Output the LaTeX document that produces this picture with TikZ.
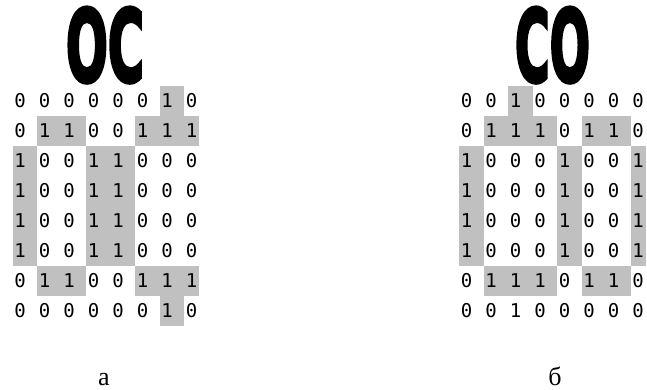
\documentclass[tikz,border=0pt]{standalone}
\usepackage{fontspec}
\usepackage{graphicx}
\setmainfont{Liberation Serif}
\newfontfamily\digitfont{DejaVu Sans Mono}
\newfontfamily\headfont{DejaVu Sans}[FakeBold=4]
\definecolor{cellgray}{HTML}{C0C0C0}
% grey block: grid left edge, first col, last col, first row, last row
\newcommand{\cellblock}[5]{%
  \ifnum#3=8 \def\blockright{#1+7*24.5+15}\else\def\blockright{#1+#3*24.5}\fi
  \fill[cellgray] ({#1+(#2-1)*24.5},{86+(#4-1)*30}) rectangle ({\blockright},{86+#5*30});}

\begin{document}
\begin{tikzpicture}[x=1pt,y=-1pt,digit/.style={font=\digitfont\fontsize{19}{19}\selectfont,inner sep=0pt},heading/.style={font=\headfont\bfseries,inner sep=0pt,anchor=south},sublabel/.style={font=\fontsize{26}{26}\selectfont,inner sep=0pt,anchor=base}]
  \useasboundingbox (0,0) rectangle (647,390);
  % left grid
  \cellblock{12.5}{7}{7}{1}{1}
  \cellblock{12.5}{2}{3}{2}{2}
  \cellblock{12.5}{6}{8}{2}{2}
  \cellblock{12.5}{1}{1}{3}{6}
  \cellblock{12.5}{4}{5}{3}{6}
  \cellblock{12.5}{2}{3}{7}{7}
  \cellblock{12.5}{6}{8}{7}{7}
  \cellblock{12.5}{7}{7}{8}{8}
  \foreach \line [count=\r] in {{0,0,0,0,0,0,1,0},{0,1,1,0,0,1,1,1},{1,0,0,1,1,0,0,0},{1,0,0,1,1,0,0,0},{1,0,0,1,1,0,0,0},{1,0,0,1,1,0,0,0},{0,1,1,0,0,1,1,1},{0,0,0,0,0,0,1,0}}
    \foreach \v [count=\c] in \line
      \node[digit] (oc-\r-\c) at ({12.5+(\c-1)*24.5+7.5},{71+\r*30}) {\v};
  % right grid
  \cellblock{459}{3}{3}{1}{1}
  \cellblock{459}{2}{4}{2}{2}
  \cellblock{459}{6}{7}{2}{2}
  \cellblock{459}{1}{1}{3}{6}
  \cellblock{459}{5}{5}{3}{6}
  \cellblock{459}{8}{8}{3}{6}
  \cellblock{459}{2}{4}{7}{7}
  \cellblock{459}{6}{7}{7}{7}
  \foreach \line [count=\r] in {{0,0,1,0,0,0,0,0},{0,1,1,1,0,1,1,0},{1,0,0,0,1,0,0,1},{1,0,0,0,1,0,0,1},{1,0,0,0,1,0,0,1},{1,0,0,0,1,0,0,1},{0,1,1,1,0,1,1,0},{0,0,1,0,0,0,0,0}}
    \foreach \v [count=\c] in \line
      \node[digit] (co-\r-\c) at ({459+(\c-1)*24.5+7.5},{71+\r*30}) {\v};
  \node[heading] (octitle) at (105,83) {\resizebox{78pt}{74pt}{OC}};
  \node[heading] (cotitle) at (552.5,83) {\resizebox{75pt}{74pt}{CO}};
  \node[sublabel] (capa) at (104,385) {а};
  \node[sublabel] (capb) at (555,385) {б};
\end{tikzpicture}
\end{document}
